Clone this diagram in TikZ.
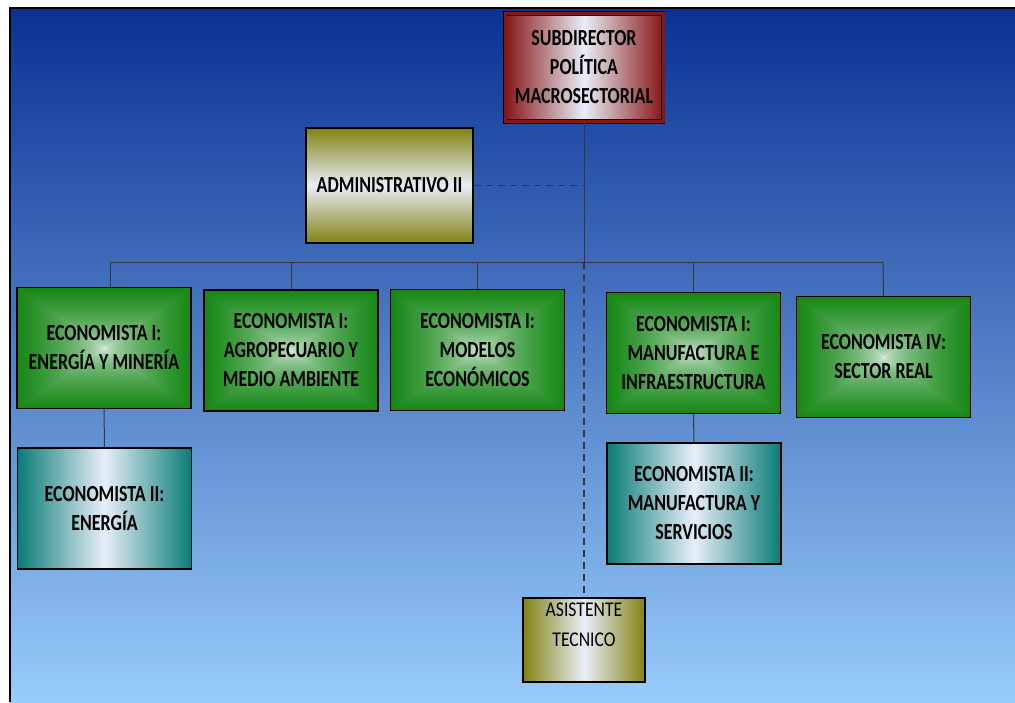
\documentclass[tikz,border=0pt]{standalone}
\usepackage{fontspec}
\setmainfont{Carlito}[FakeStretch=0.78]
\newfontfamily\astfont{Carlito}[FakeStretch=0.84]

\definecolor{bgtop}{RGB}{10,50,148}
\definecolor{bgbot}{RGB}{152,204,250}
\definecolor{boxred}{RGB}{135,22,22}
\definecolor{boxolive}{RGB}{130,130,18}
\definecolor{boxteal}{RGB}{8,124,118}
\definecolor{boxlight}{RGB}{232,238,248}
\definecolor{linegray}{RGB}{55,55,55}

% green box: white centre fading to green towards the four edges
\pgfdeclarefunctionalshading{glow}{\pgfpoint{-50bp}{-50bp}}{\pgfpoint{50bp}{50bp}}{}{
  abs exch abs 2 copy lt {exch} if pop 25 div dup 1 gt {pop 1} if sqrt
  dup dup -0.84 mul 0.92 add 3 1 roll -0.42 mul 0.95 add exch -0.86 mul 0.94 add
}

\begin{document}
\begin{tikzpicture}[x=1pt, y=-1pt,
  txt/.style={font=\bfseries\fontsize{23}{29}\selectfont, align=center, text=black},
  subbox/.style={txt, draw=black, line width=0.9pt, double=boxred, double distance=3pt,
    left color=boxred, right color=boxred, middle color=boxlight,
    minimum width=158pt, minimum height=108pt},
  admbox/.style={txt, draw=black, line width=1.4pt,
    top color=boxolive, bottom color=boxolive, middle color=boxlight,
    minimum width=167pt, minimum height=115pt},
  ecobox/.style={txt, draw=black, line width=1.4pt, shading=glow,
    minimum width=174pt, minimum height=121pt},
  eco2box/.style={txt, draw=black, line width=1.4pt,
    left color=boxteal, right color=boxteal, middle color=boxlight,
    minimum width=174pt, minimum height=121pt},
  astbox/.style={draw=black, line width=1.4pt,
    left color=boxolive, right color=boxolive, middle color=boxlight,
    minimum width=122pt, minimum height=84pt},
  conn/.style={linegray, line width=1pt},
  dconn/.style={linegray, line width=1.4pt, dash pattern=on 7pt off 5pt}]

\useasboundingbox (0,0) rectangle (1015,702);
\fill[white] (0,0) rectangle (1015,702);
\shade[top color=bgtop, bottom color=bgbot] (10,8) rectangle (1015,702);
\draw[line width=2.5pt] (10,702) -- (10,8) -- (1015,8);

% Boxes
\node[subbox] (sub) at (584, 67.5) {SUBDIRECTOR\\POLÍTICA\\MACROSECTORIAL};
\node[admbox] (adm) at (389.5, 185.5) {ADMINISTRATIVO II};

\node[ecobox] (ene) at (104, 348) {ECONOMISTA I:\\ENERGÍA Y MINERÍA};
\node[ecobox] (agr) at (291, 350.5) {ECONOMISTA I:\\AGROPECUARIO Y\\MEDIO AMBIENTE};
\node[ecobox] (mod) at (477.5, 350) {ECONOMISTA I:\\MODELOS\\ECONÓMICOS};
\node[ecobox] (man) at (693.5, 353) {ECONOMISTA I:\\MANUFACTURA E\\INFRAESTRUCTURA};
\node[ecobox] (sec) at (883.5, 357) {ECONOMISTA IV:\\SECTOR REAL};

\node[eco2box] (ene2) at (104.5, 508.5) {ECONOMISTA II:\\ENERGÍA};
\node[eco2box] (man2) at (694, 503.5) {ECONOMISTA II:\\MANUFACTURA Y\\SERVICIOS};

\node[astbox] (ast) at (584, 640) {};
\node[align=center, font=\astfont\fontsize{21}{30}\selectfont, inner sep=0pt, anchor=north]
  (asttxt) at (584, 603) {ASISTENTE\\TECNICO};

% Bus
\coordinate (busL) at (110, 262);
\coordinate (busR) at (883, 262);
\coordinate (busM) at (sub.south |- busL);

\draw[conn] (busL) -- (busR);
\draw[conn] (sub.south) -- (busM);

\draw[conn] (busL) -- (busL |- ene.north);
\draw[conn] (agr.north |- busL) -- (agr.north);
\draw[conn] (mod.north |- busL) -- (mod.north);
\draw[conn] (man.north |- busL) -- (man.north);
\draw[conn] (busR) -- (sec.north);

\draw[conn] (ene.south) -- (ene2.north);
\draw[conn] (man.south) -- (man2.north);

% Staff lines
\draw[dconn] (adm.east) -- (adm.east -| sub.south);
\draw[dconn] (busM) -- (ast.north);

\end{tikzpicture}
\end{document}
